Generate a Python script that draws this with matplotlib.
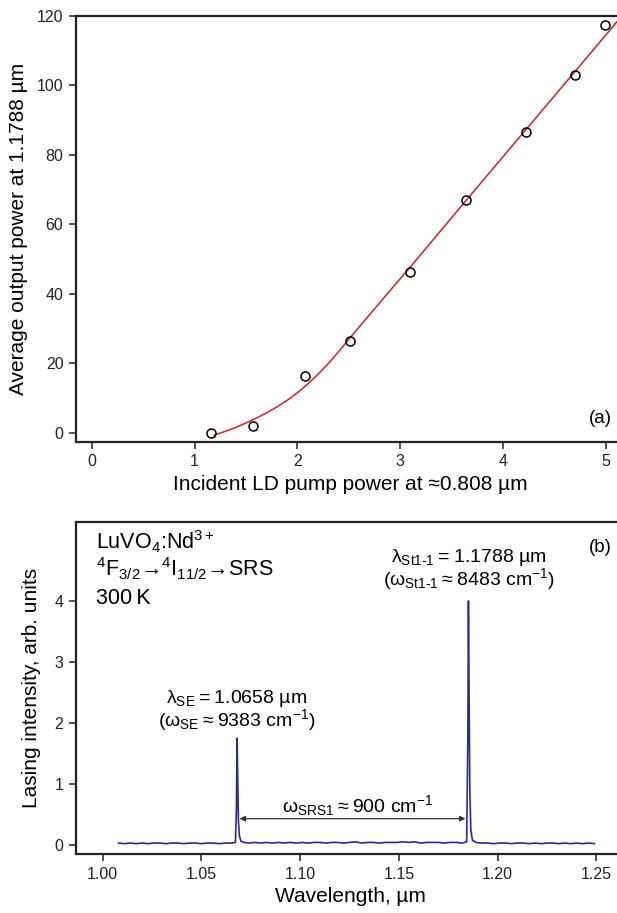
import matplotlib
matplotlib.use("Agg")
import matplotlib.pyplot as plt

plt.rcParams['font.family'] = ['Liberation Sans', 'DejaVu Sans']
plt.rcParams['mathtext.fontset'] = 'custom'
plt.rcParams['mathtext.rm'] = 'Liberation Sans'
plt.rcParams['mathtext.it'] = 'Liberation Sans:italic'
plt.rcParams['mathtext.bf'] = 'Liberation Sans:bold'

# panel (a): measured points and fitted curve
pump = [1.16, 1.57, 2.07, 2.51, 3.09, 3.64, 4.22, 4.70, 4.99]
power = [-0.1, 2.1, 16.5, 26.4, 46.4, 67.0, 86.6, 103.0, 117.3]
fit_x = [1.19, 1.30, 1.40, 1.50, 1.60, 1.70, 1.80, 1.90, 2.00, 2.10, 2.20, 2.30,
         2.40, 2.50, 2.60, 2.80, 3.09, 3.64, 4.22, 4.70, 5.15]
fit_y = [-0.6, 0.5, 1.6, 2.9, 4.3, 5.8, 7.5, 9.4, 11.6, 14.1, 16.9, 20.0,
         23.4, 27.0, 30.5, 37.5, 47.5, 66.9, 87.2, 104.0, 119.8]

# panel (b): lasing spectrum
wl = [1.0080, 1.0110, 1.0140, 1.0170, 1.0200, 1.0230, 1.0260, 1.0290, 1.0320, 1.0350,
      1.0380, 1.0410, 1.0440, 1.0470, 1.0500, 1.0530, 1.0560, 1.0590, 1.0620, 1.0650,
      1.0672, 1.0677, 1.0680, 1.0683, 1.0687, 1.0692, 1.0700, 1.0715, 1.0740, 1.0770,
      1.0800, 1.0830, 1.0860, 1.0890, 1.0920, 1.0950, 1.0980, 1.1010, 1.1040, 1.1070,
      1.1100, 1.1130, 1.1160, 1.1190, 1.1220, 1.1250, 1.1280, 1.1310, 1.1340, 1.1370,
      1.1400, 1.1430, 1.1460, 1.1490, 1.1520, 1.1550, 1.1580, 1.1610, 1.1640, 1.1670,
      1.1700, 1.1730, 1.1760, 1.1790, 1.1820, 1.1843, 1.1849, 1.1852, 1.1855, 1.1859,
      1.1864, 1.1872, 1.1890, 1.1920, 1.1950, 1.1980, 1.2010, 1.2040, 1.2070, 1.2100,
      1.2130, 1.2160, 1.2190, 1.2220, 1.2250, 1.2280, 1.2310, 1.2340, 1.2370, 1.2400,
      1.2430, 1.2460, 1.2490]
inten = [0.03, 0.02, 0.03, 0.02, 0.03, 0.02, 0.03, 0.03, 0.02, 0.03,
         0.03, 0.02, 0.03, 0.03, 0.02, 0.03, 0.03, 0.02, 0.03, 0.03,
         0.04, 0.60, 1.75, 1.20, 0.40, 0.15, 0.06, 0.04, 0.03, 0.04,
         0.03, 0.04, 0.03, 0.04, 0.03, 0.04, 0.03, 0.04, 0.03, 0.04,
         0.04, 0.03, 0.04, 0.04, 0.03, 0.04, 0.05, 0.03, 0.04, 0.04,
         0.03, 0.04, 0.04, 0.04, 0.05, 0.04, 0.05, 0.03, 0.04, 0.04,
         0.04, 0.03, 0.04, 0.04, 0.03, 0.05, 1.80, 4.00, 2.60, 0.90,
         0.25, 0.08, 0.04, 0.03, 0.03, 0.02, 0.03, 0.03, 0.02, 0.03,
         0.03, 0.02, 0.03, 0.02, 0.03, 0.03, 0.02, 0.03, 0.02, 0.03,
         0.02, 0.03, 0.02]

top_xticks = [0, 1, 2, 3, 4, 5]
top_yticks = [0, 20, 40, 60, 80, 100, 120]
bot_xticks = [1.00, 1.05, 1.10, 1.15, 1.20, 1.25]
bot_yticks = [0, 1, 2, 3, 4]

fig = plt.figure(figsize=(6.17, 9.13), dpi=100)
axa = fig.add_axes([0.123, 0.5162, 0.89, 0.4666])
axb = fig.add_axes([0.123, 0.0646, 0.89, 0.3633])

for ax in (axa, axb):
    for s in ax.spines.values():
        s.set_linewidth(1.6)
        s.set_color('#222222')
    ax.tick_params(direction='out', length=5, width=1.1, labelsize=11.5,
                   colors='#222222', pad=4)

# (a)
axa.plot(fit_x, fit_y, color='#cc2229', lw=1.1)
axa.plot(pump, power, 'o', mfc='none', mec='black', ms=6.5, mew=1.1)
axa.set_xlim(-0.155, 5.185)
axa.set_ylim(-2.5, 120)
axa.set_xticks(top_xticks)
axa.set_yticks(top_yticks)
axa.set_xlabel('Incident LD pump power at \u22480.808 \u00b5m', fontsize=15, labelpad=4)
axa.set_ylabel('Average output power at 1.1788 \u00b5m', fontsize=15, labelpad=6)
axa.text(0.955, 0.045, '(a)', transform=axa.transAxes, fontsize=13.5, ha='center')

# (b)
thin = '\u2009'
axb.plot(wl, inten, color='#2b2b8f', lw=1.2)
axb.set_xlim(0.9864, 1.2645)
axb.set_ylim(-0.15, 5.29)
axb.set_xticks(bot_xticks)
axb.set_xticklabels(['%.2f' % v for v in bot_xticks])
axb.set_yticks(bot_yticks)
axb.set_xlabel('Wavelength, \u00b5m', fontsize=15, labelpad=4)
axb.set_ylabel('Lasing intensity, arb. units', fontsize=15, labelpad=10)

axb.annotate('', xy=(1.0693, 0.43), xytext=(1.1837, 0.43),
             arrowprops=dict(arrowstyle='<|-|>', color='#333333', lw=0.9,
                             mutation_scale=8, shrinkA=0, shrinkB=0))
axb.text(1.1288, 0.53, '\u03c9$_{\\mathrm{SRS1}}$' + thin + '\u2248' + thin + '900 cm$^{\\mathrm{-1}}$',
         fontsize=14, ha='center')
axb.text(1.068, 2.33, '\u03bb$_{\\mathrm{SE}}$' + thin + '=' + thin + '1.0658 \u00b5m',
         fontsize=14, ha='center')
axb.text(1.068, 1.95, '(\u03c9$_{\\mathrm{SE}}$' + thin + '\u2248' + thin + '9383 cm$^{\\mathrm{-1}}$)',
         fontsize=14, ha='center')
axb.text(1.1852, 4.64, '\u03bb$_{\\mathrm{St1\u20101}}$' + thin + '=' + thin + '1.1788 \u00b5m',
         fontsize=14, ha='center')
axb.text(1.1852, 4.26, '(\u03c9$_{\\mathrm{St1\u20101}}$' + thin + '\u2248' + thin + '8483 cm$^{\\mathrm{-1}}$)',
         fontsize=14, ha='center')
axb.text(0.9968, 4.85, 'LuVO$_{\\mathrm{4}}$:Nd$^{\\mathrm{3+}}$', fontsize=15.5)
axb.text(0.9968, 4.4, '$^{\\mathrm{4}}$F$_{\\mathrm{3/2}}$\u2192$^{\\mathrm{4}}$I$_{\\mathrm{11/2}}$\u2192SRS',
         fontsize=15.5)
axb.text(0.9968, 3.95, '300' + thin + 'K', fontsize=15.5)
axb.text(0.955, 0.91, '(b)', transform=axb.transAxes, fontsize=13.5, ha='center')

fig.savefig('out.png', dpi=100)
